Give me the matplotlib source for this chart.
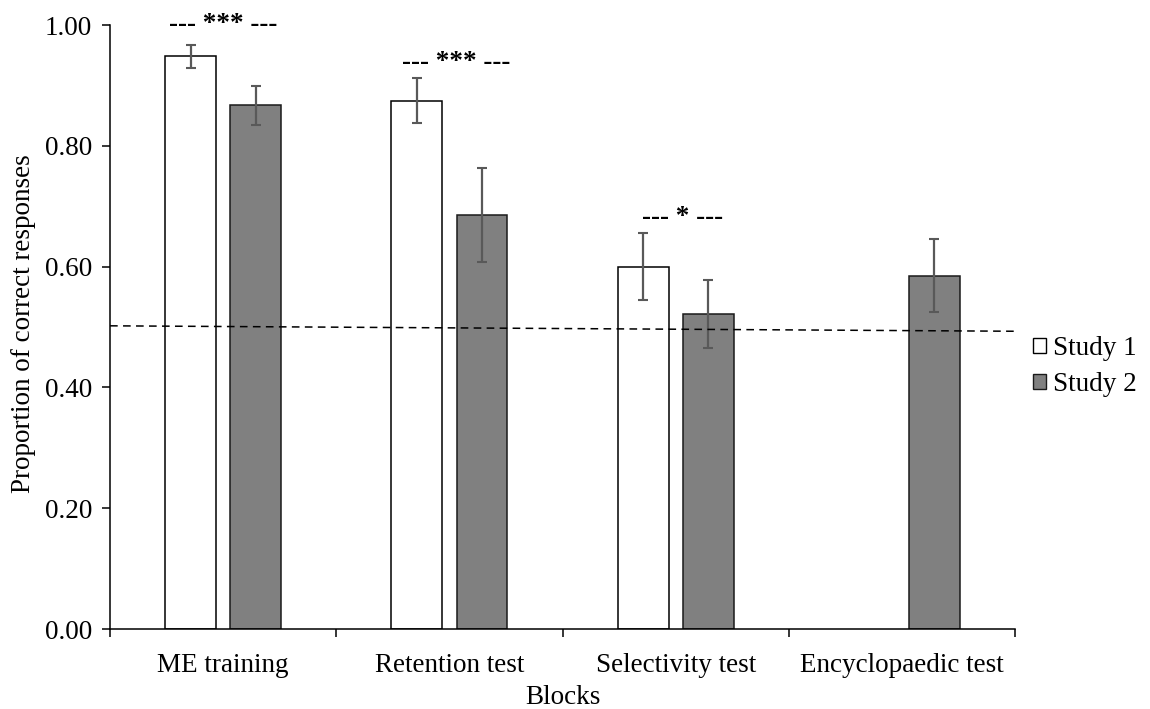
import numpy as np
import matplotlib
matplotlib.use("Agg")
import matplotlib.pyplot as plt
from matplotlib.patches import Patch

plt.rcParams["font.family"] = ["Liberation Serif", "DejaVu Serif"]

# Data
blocks = ["ME training", "Retention test", "Selectivity test", "Encyclopaedic test"]
study1_mean = [0.948, 0.875, 0.600, np.nan]
study1_err = [0.019, 0.037, 0.056, np.nan]
study2_mean = [0.867, 0.685, 0.522, 0.585]
study2_err = [0.032, 0.078, 0.056, 0.060]
chance_level = [0.502, 0.493]          # dashed reference line, left and right ends
sig_labels = ["--- *** ---", "--- *** ---", "--- * ---"]
sig_heights = [0.990, 0.927, 0.670]
y_ticks = [0.0, 0.2, 0.4, 0.6, 0.8, 1.0]

FS = 19.5
fig = plt.figure(figsize=(11.5, 7.09), dpi=100)
ax = fig.add_axes([0.0957, 0.1128, 0.7869, 0.8519])

x = np.arange(len(blocks))
width = 0.225
offset = 0.144
err_kw = dict(ecolor="#595959", elinewidth=1.6, capsize=3.5, capthick=1.5)

ax.bar(x - offset, study1_mean, width, yerr=study1_err, color="white",
       edgecolor="black", linewidth=1.1, error_kw=err_kw, label="Study 1", zorder=2)
ax.bar(x + offset, study2_mean, width, yerr=study2_err, color="#808080",
       edgecolor="#1a1a1a", linewidth=1.1, error_kw=err_kw, label="Study 2", zorder=2)

# chance line across the whole plotting area
ax.plot([-0.5, len(blocks) - 0.5], chance_level, color="black", lw=1.1,
        ls=(0, (5, 3.5)), zorder=3)

# significance markers
for i, (lab, h) in enumerate(zip(sig_labels, sig_heights)):
    dx = 0.0 if i == 0 else 0.03
    ax.text(i + dx, h, lab, ha="center", va="baseline", fontsize=FS,
            fontweight="bold")

ax.set_xlim(-0.5, len(blocks) - 0.5)
ax.set_ylim(0, 1.0)
ax.set_yticks(y_ticks)
ax.set_yticklabels([f"{v:.2f}" for v in y_ticks], fontsize=FS)

ax.set_xticks(x)
ax.set_xticklabels(blocks, fontsize=FS)
ax.set_xticks(np.arange(-0.5, len(blocks)), minor=True)
ax.tick_params(axis="x", which="major", length=0, pad=17)
ax.tick_params(axis="x", which="minor", length=6, width=1.1, direction="out")
ax.tick_params(axis="y", length=6, width=1.1, direction="out", pad=7)

for s in ["top", "right"]:
    ax.spines[s].set_visible(False)
for s in ["left", "bottom"]:
    ax.spines[s].set_linewidth(1.1)

ax.set_xlabel("Blocks", fontsize=FS, labelpad=5)
fig.text(0.0205, 0.544, "Proportion of correct responses", rotation=90,
         ha="center", va="center", fontsize=FS)

handles = [Patch(facecolor="white", edgecolor="black", linewidth=1.0),
           Patch(facecolor="#808080", edgecolor="#1a1a1a", linewidth=1.0)]
fig.legend(handles, ["Study 1", "Study 2"], loc="center left",
           bbox_to_anchor=(0.898, 0.483), frameon=False, fontsize=FS,
           handlelength=0.5, handleheight=0.5, handletextpad=0.25,
           labelspacing=0.4, borderpad=0, borderaxespad=0)

fig.savefig("out.png", dpi=100)
